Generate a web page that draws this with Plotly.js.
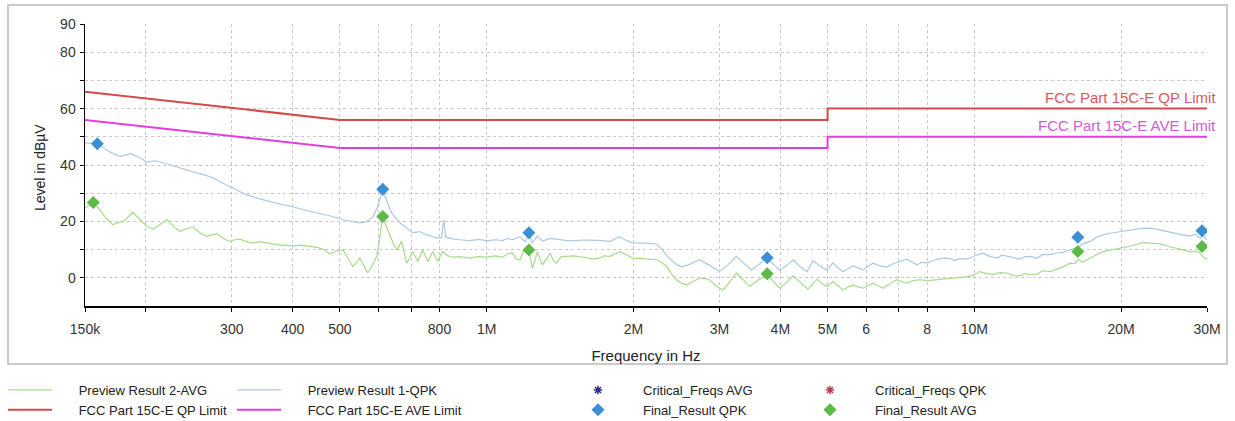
<!DOCTYPE html>
<html><head><meta charset="utf-8">
<script src="https://cdn.plot.ly/plotly-3.0.1.min.js"></script>
<style>html,body{margin:0;padding:0;background:#fff;}#chart{width:1235px;height:421px;}</style>
</head><body><div id="chart"></div>
<script>
// Frequencies in MHz, levels in dBuV
const qpkFreq = [0.150,0.159,0.169,0.177,0.186,0.195,0.201,0.209,0.217,0.226,0.235,0.244,0.254,0.264,0.274,0.288,0.302,0.312,0.322,0.334,0.347,0.373,0.400,0.433,0.476,0.511,0.531,0.549,0.567,0.584,0.597,0.612,0.626,0.638,0.654,0.669,0.685,0.705,0.729,0.753,0.771,0.789,0.808,0.816,0.824,0.851,0.880,0.922,0.967,1.00,1.04,1.08,1.10,1.13,1.17,1.20,1.22,1.24,1.27,1.30,1.35,1.41,1.48,1.59,1.70,1.79,1.83,1.87,1.92,1.99,2.11,2.23,2.29,2.35,2.41,2.46,2.52,2.61,2.73,2.86,3.00,3.12,3.25,3.38,3.49,3.63,3.76,3.86,3.99,4.13,4.25,4.39,4.54,4.67,4.83,4.99,5.13,5.25,5.38,5.51,5.64,5.77,5.91,6.05,6.20,6.41,6.62,6.81,7.04,7.28,7.45,7.63,7.81,8.00,8.30,8.50,8.79,9.13,9.34,9.66,10.03,10.42,10.77,11.13,11.40,11.67,12.00,12.41,12.70,13.01,13.45,13.83,14.30,14.78,15.20,15.72,16.32,16.79,17.27,17.77,18.36,18.98,19.90,20.86,22.18,23.15,24.04,25.20,26.79,27.69,28.35,29.03,29.45,30.00];
const qpkLevel = [47.8,47.5,44.5,43,44,42.5,41,41.5,40.8,39.8,39,38,37.2,36.5,35.5,33.5,31.6,30.5,29.4,28.5,27.7,26.3,25.2,23.6,22,20.5,19.9,19.5,19.9,21.6,25,31.2,26.6,23,20.6,19,17.7,16,16.4,15.2,14.8,14.1,14.3,20.6,14.5,13.8,13.5,13.2,13.6,13.1,13.5,13.2,14,13.5,14.6,12.8,15.5,12.5,14.8,13,14,13.5,13.1,13.4,13.3,12.9,13.8,14.6,13.5,12.4,12.3,12,9.9,7.5,5.8,4.5,3.9,4.8,6.4,4.5,2.2,4.5,7.6,5,2.8,5,7.4,5,2.8,4.5,6.4,4,2.2,6.1,4,2.8,5.3,3.5,2.2,3.2,4.3,3.5,2.8,4,5.2,4.2,3.8,5,5.8,6.6,5.5,4.6,5.5,5.3,6.3,6.8,7,6.2,6.8,6.6,7.8,8.8,7.5,7,8,7.6,7,6.6,7.5,7.6,7,8.3,8.2,8.8,9,9.9,10.9,12.2,12.9,14.3,15.2,15.8,16.4,17,17.6,17.5,17,16.2,15.2,14.8,15.5,14.1,15,13.5];

const avgFreq = [0.150,0.156,0.161,0.166,0.171,0.175,0.180,0.184,0.188,0.195,0.201,0.207,0.214,0.221,0.227,0.235,0.243,0.250,0.258,0.267,0.273,0.280,0.288,0.297,0.304,0.312,0.322,0.331,0.342,0.354,0.364,0.376,0.389,0.400,0.413,0.433,0.448,0.461,0.476,0.492,0.507,0.519,0.531,0.541,0.549,0.559,0.570,0.581,0.595,0.603,0.612,0.623,0.632,0.644,0.654,0.669,0.685,0.695,0.705,0.722,0.739,0.757,0.775,0.793,0.812,0.831,0.851,0.880,0.922,0.958,1.00,1.04,1.08,1.10,1.13,1.15,1.17,1.19,1.22,1.24,1.26,1.27,1.29,1.30,1.33,1.35,1.37,1.39,1.42,1.46,1.51,1.59,1.65,1.70,1.74,1.79,1.83,1.87,1.92,1.99,2.11,2.23,2.28,2.34,2.39,2.45,2.51,2.57,2.64,2.73,2.80,2.86,2.96,3.05,3.15,3.25,3.35,3.46,3.59,3.76,3.86,3.99,4.13,4.25,4.39,4.56,4.67,4.76,4.87,4.99,5.13,5.25,5.38,5.51,5.64,5.77,5.91,6.05,6.20,6.35,6.50,6.72,6.94,7.11,7.28,7.49,7.74,8.03,8.38,8.71,9.04,9.43,9.80,10.03,10.27,10.62,10.92,11.29,11.67,12.00,12.41,12.70,13.01,13.45,13.83,14.30,14.78,15.20,15.72,16.09,16.32,16.71,17.27,17.85,18.36,18.98,19.90,20.86,22.18,23.15,24.04,25.20,26.17,26.79,27.69,28.35,29.03,29.45,30.00];
const avgLevel = [24.7,26.7,24.1,21,18.8,19.5,20,21.8,23.2,20.5,18.2,17.3,19,20.6,18.5,16.4,17.5,18,16,14.6,15.3,15.6,14,12.9,13.5,13.7,12.8,12.3,12.8,12.5,12,11.7,11.5,11.3,11.6,11.1,10.8,10.2,8.5,9.5,9.9,7,4,5.5,7,4.5,1.7,4,7.6,14,21.7,18,15.2,12,9.9,12.9,5.2,7,9.3,5.8,9.9,5.8,9.3,5.8,9.3,7.8,7.3,7.5,7,7.5,7.3,7.8,7.3,8.5,8.8,6.5,6.4,9.5,9.9,3.4,7,9.3,6,4.6,7,8.8,6,5.2,7.5,7.6,7.8,7.2,6.6,7,7.8,7.6,8.5,9.3,8.5,7,6.7,6.4,5.5,4,1.5,-0.7,-2,-2.5,-1.5,-0.1,-0.3,-0.7,-3,-4.3,-1.5,1.7,-0.5,-3.1,-1,1.1,-1,-3.7,-1.5,0.7,-1.5,-4,-2,-0.5,-2,-3.1,-1.3,-2.8,-4.3,-3.2,-2.5,-3.2,-3.7,-2.8,-1.9,-2.8,-3.7,-2,-0.7,-1.5,-1.9,-1,-0.7,-1,-0.7,-0.5,-0.1,0.2,0.5,1.2,2.2,1.5,1.1,1.8,1.7,0.8,0.7,1.5,1.1,1.3,2.5,2.2,3,3.8,5.2,5,6.5,5.5,7,8.3,9.3,9.8,10.5,11.2,12.5,12.3,12,11,10.4,9.9,9.2,9.5,8.8,7.5,6.4];

const limitFreq = [0.15, 0.5, 5, 5, 30];
const qpLimit  = [66, 56, 56, 60, 60];
const aveLimit = [56, 46, 46, 50, 50];

const finalQpkFreq = [0.159, 0.612, 1.22, 3.76, 16.3, 29.3];
const finalQpkLevel = [47.5, 31.4, 16.0, 7.1, 14.4, 16.7];
const finalAvgFreq = [0.156, 0.612, 1.22, 3.76, 16.3, 29.3];
const finalAvgLevel = [26.7, 21.7, 9.9, 1.4, 9.3, 11.1];

const xTickVals = [0.15,0.2,0.3,0.4,0.5,0.6,0.7,0.8,1,2,3,4,5,6,7,8,10,20,30];
const xTickText = ['150k','','300','400','500','','','800','1M','2M','3M','4M','5M','6','','8','10M','20M','30M'];
const yTickVals = [0,10,20,30,40,50,60,70,80,90];
const yTickText = ['0','','20','','40','','60','','80','90'];

const FONT = 'Arial, "Liberation Sans", sans-serif';
const W = 1235, H = 421;
const L = 85, R = 1207, T = 24, B = 306;
const px = x => (x - L) / (R - L);
const py = y => (B - y) / (B - T);
const GAP = '\u00a0\u00a0\u00a0\u00a0\u00a0\u00a0';

const traces = [
  {x: avgFreq, y: avgLevel, mode: 'lines', name: GAP + 'Preview Result 2-AVG', line: {color: '#a6dc8a', width: 1.2}, legend: 'legend'},
  {x: limitFreq, y: qpLimit, mode: 'lines', name: GAP + 'FCC Part 15C-E QP Limit', line: {color: '#d44a4a', width: 2}, legend: 'legend'},
  {x: qpkFreq, y: qpkLevel, mode: 'lines', name: GAP + 'Preview Result 1-QPK', line: {color: '#a9c9e3', width: 1.2}, legend: 'legend2'},
  {x: limitFreq, y: aveLimit, mode: 'lines', name: GAP + 'FCC Part 15C-E AVE Limit', line: {color: '#e040e0', width: 2}, legend: 'legend2'},
  {x: [null], y: [null], mode: 'markers', name: 'Critical_Freqs AVG', marker: {symbol: 'asterisk-open', size: 7, line: {color: '#2b2b8c', width: 1.5}, color: '#2b2b8c'}, legend: 'legend3'},
  {x: finalQpkFreq, y: finalQpkLevel, mode: 'markers', name: 'Final_Result QPK', marker: {symbol: 'diamond', size: 10, color: '#3b8fd5'}, legend: 'legend3'},
  {x: [null], y: [null], mode: 'markers', name: 'Critical_Freqs QPK', marker: {symbol: 'asterisk-open', size: 7, line: {color: '#b8404c', width: 1.5}, color: '#b8404c'}, legend: 'legend4'},
  {x: finalAvgFreq, y: finalAvgLevel, mode: 'markers', name: 'Final_Result AVG', marker: {symbol: 'diamond', size: 10, color: '#5cba45'}, legend: 'legend4'}
];

const legBase = {xref: 'container', yref: 'container', yanchor: 'top', xanchor: 'left', orientation: 'v',
  bgcolor: 'rgba(0,0,0,0)', font: {family: FONT, size: 13, color: '#222'}, tracegroupgap: 0};

const layout = {
  width: W, height: H,
  margin: {l: L, r: W - R, t: T, b: H - B, pad: 0, autoexpand: false},
  paper_bgcolor: '#fff', plot_bgcolor: '#fff',
  font: {family: FONT, size: 14, color: '#333'},
  xaxis: {
    type: 'log', range: [Math.log10(0.15), Math.log10(30)],
    tickvals: xTickVals, ticktext: xTickText, tickmode: 'array',
    showline: true, linecolor: '#000', linewidth: 1.5, mirror: false,
    ticks: 'outside', ticklen: 4, tickcolor: '#000', tickwidth: 1,
    showgrid: true, gridcolor: '#c8c8c8', griddash: '3px,3px', gridwidth: 1,
    tickfont: {family: FONT, size: 14, color: '#333'}, ticklabelstandoff: 6,
    zeroline: false, automargin: false,
    title: {text: 'Frequency in Hz', font: {family: FONT, size: 15, color: '#222'}, standoff: 14}
  },
  yaxis: {
    range: [-10, 90], tickvals: yTickVals, ticktext: yTickText, tickmode: 'array',
    showline: true, linecolor: '#000', linewidth: 1.5,
    ticks: 'outside', ticklen: 4, tickcolor: '#000', tickwidth: 1,
    showgrid: true, gridcolor: '#c8c8c8', griddash: '3px,3px', gridwidth: 1,
    tickfont: {family: FONT, size: 14, color: '#333'}, ticklabelstandoff: 1,
    zeroline: false, automargin: false
  },
  showlegend: true,
  legend:  Object.assign({}, legBase, {x: 3 / W, y: 1 - 375 / H, itemwidth: 44}),
  legend2: Object.assign({}, legBase, {x: 232 / W, y: 1 - 375 / H, itemwidth: 44}),
  legend3: Object.assign({}, legBase, {x: 553 / W, y: 1 - 375 / H, itemwidth: 80}),
  legend4: Object.assign({}, legBase, {x: 785 / W, y: 1 - 375 / H, itemwidth: 80}),
  shapes: [
    {type: 'rect', xref: 'paper', yref: 'paper', x0: px(8), x1: px(1227), y0: py(364), y1: py(5),
     line: {color: '#cacaca', width: 2}, fillcolor: 'rgba(0,0,0,0)', layer: 'below'}
  ],
  annotations: [
    {xref: 'paper', yref: 'paper', x: px(40), y: py(168), xanchor: 'center', yanchor: 'middle', textangle: -90,
     text: 'Level in dBµV', showarrow: false, font: {family: FONT, size: 14, color: '#222'}},
    {xref: 'paper', yref: 'y', x: px(1218), y: 60, xanchor: 'right', yanchor: 'bottom', yshift: 1,
     text: 'FCC Part 15C-E QP Limit', showarrow: false, font: {family: FONT, size: 15, color: '#dd5a5a'}},
    {xref: 'paper', yref: 'y', x: px(1218), y: 50, xanchor: 'right', yanchor: 'bottom', yshift: 1,
     text: 'FCC Part 15C-E AVE Limit', showarrow: false, font: {family: FONT, size: 15, color: '#d35ad3'}}
  ]
};

Plotly.newPlot('chart', traces, layout, {displayModeBar: false, staticPlot: true});
</script>
</body></html>
